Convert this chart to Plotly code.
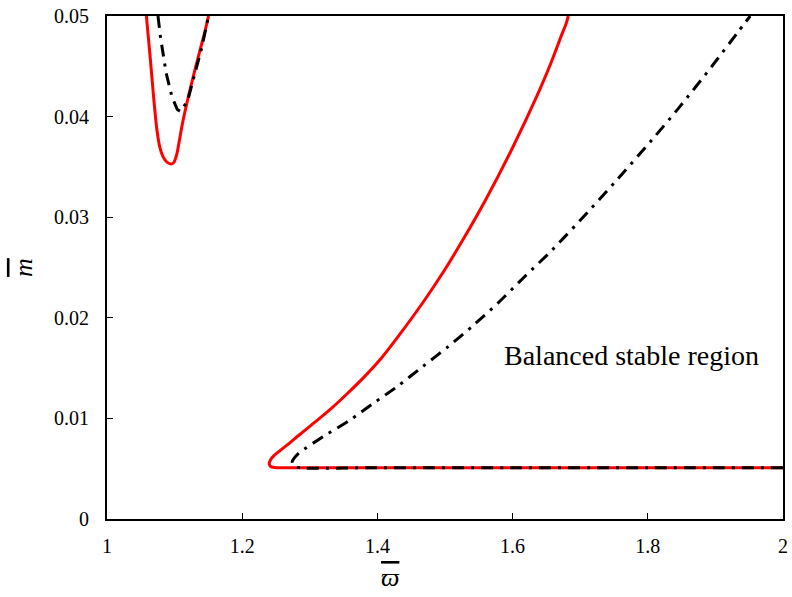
import plotly.graph_objects as go

# Upper-left instability tongue (solid red boundary)
tongue_red_w = [1.0583, 1.0610, 1.0640, 1.0672, 1.0705, 1.0740, 1.0780, 1.0830,
                1.0890, 1.0950, 1.0990, 1.1030, 1.1070, 1.1110, 1.1170, 1.1240,
                1.1310, 1.1380, 1.1450, 1.1502]
tongue_red_m = [0.0500, 0.0480, 0.0458, 0.0433, 0.0408, 0.0386, 0.0370, 0.0360,
                0.03545, 0.03530, 0.03545, 0.0362, 0.0376, 0.0391, 0.0410, 0.0430,
                0.0449, 0.0467, 0.0485, 0.0500]

# Upper-left tongue (dash-dot black boundary)
tongue_blk_w = [1.0754, 1.0793, 1.0876, 1.0960, 1.1040, 1.1090, 1.1194, 1.1290,
                1.1400, 1.1502]
tongue_blk_m = [0.0500, 0.0478, 0.0443, 0.0420, 0.0407, 0.0405, 0.0416, 0.0440,
                0.0468, 0.0500]

# Main boundary, solid red: lower branch from the right, round tip, upper branch
main_red_w = [2.0, 1.8, 1.6, 1.4, 1.3, 1.26, 1.248, 1.2420, 1.2400, 1.2420, 1.2470,
              1.2560, 1.2700, 1.2834, 1.3070, 1.3311, 1.3560, 1.3809, 1.4060,
              1.4305, 1.4699, 1.4970, 1.5234, 1.5600, 1.5983, 1.6377, 1.6560,
              1.6730, 1.6790, 1.6824]
main_red_m = [0.0051, 0.0051, 0.0051, 0.0051, 0.0051, 0.0051, 0.00512, 0.00522,
              0.0055, 0.0059, 0.0063, 0.0068, 0.00755, 0.00830, 0.0096, 0.01095,
              0.0125, 0.01415, 0.0160, 0.01812, 0.02177, 0.0245, 0.0274, 0.03171,
              0.03668, 0.04231, 0.0452, 0.0482, 0.0492, 0.0500]

# Main boundary, dash-dot black
main_blk_w = [2.0, 1.8, 1.6, 1.4, 1.285, 1.2760, 1.2740, 1.2775, 1.2834, 1.3200,
              1.3595, 1.3940, 1.4290, 1.4660, 1.5046, 1.5410, 1.5779, 1.6180,
              1.6585, 1.7142, 1.7521, 1.8059, 1.8474, 1.8951, 1.9320, 1.9515]
main_blk_m = [0.0051, 0.0051, 0.0051, 0.0051, 0.0051, 0.0053, 0.0057, 0.0061,
              0.00653, 0.0082, 0.00984, 0.0115, 0.01315, 0.0151, 0.01713, 0.0192,
              0.02144, 0.0241, 0.02674, 0.03072, 0.03353, 0.03767, 0.04099,
              0.04503, 0.04828, 0.0500]

x_ticks = [1, 1.2, 1.4, 1.6, 1.8, 2]
x_tick_text = ["1", "1.2", "1.4", "1.6", "1.8", "2"]
y_ticks = [0, 0.01, 0.02, 0.03, 0.04, 0.05]
y_tick_text = ["0", "0.01", "0.02", "0.03", "0.04", "0.05"]

SERIF = "Liberation Serif"
RED = "#ff0000"
DASHDOT = "12px,7px,3px,7px"

fig = go.Figure()
fig.add_trace(go.Scatter(x=tongue_red_w, y=tongue_red_m, mode="lines",
                         line=dict(color=RED, width=3, shape="spline", smoothing=0.8),
                         showlegend=False))
fig.add_trace(go.Scatter(x=main_red_w, y=main_red_m, mode="lines",
                         line=dict(color=RED, width=3, shape="spline", smoothing=0.8),
                         showlegend=False))
fig.add_trace(go.Scatter(x=tongue_blk_w, y=tongue_blk_m, mode="lines",
                         line=dict(color="black", width=3, dash=DASHDOT),
                         showlegend=False))
fig.add_trace(go.Scatter(x=main_blk_w, y=main_blk_m, mode="lines",
                         line=dict(color="black", width=3, dash=DASHDOT,
                                   shape="spline", smoothing=0.8),
                         showlegend=False))

fig.add_annotation(x=1.5844, y=0.0163, xref="x", yref="y", xanchor="left",
                   yanchor="middle", showarrow=False, text="Balanced stable region",
                   font=dict(family=SERIF, size=28, color="black"))

# x-axis symbol, placed under the 1.4–1.6 interval
fig.add_annotation(x=1.42, y=-0.117, xref="x", yref="paper", xanchor="center",
                   yanchor="middle", showarrow=False,
                   text="<span style='text-decoration:overline'><i>\u03d6</i></span>",
                   font=dict(family=SERIF, size=26, color="black"))

axis_common = dict(showgrid=False, zeroline=False, showline=True, linecolor="black",
                   linewidth=2, mirror=True, ticks="inside", ticklen=6, tickwidth=1,
                   tickcolor="black", tickfont=dict(family=SERIF, size=20, color="black"))

fig.update_xaxes(range=[1, 2], tickvals=x_ticks, ticktext=x_tick_text,
                 ticklabelstandoff=8, **axis_common)
fig.update_yaxes(range=[0, 0.05], tickvals=y_ticks, ticktext=y_tick_text,
                 title=dict(text="<span style='text-decoration:overline'><i>m</i></span>",
                            font=dict(family=SERIF, size=26, color="black"),
                            standoff=14),
                 ticklabelstandoff=12, **axis_common)

fig.update_layout(width=792, height=597, plot_bgcolor="white", paper_bgcolor="white",
                  margin=dict(l=107, r=4, t=16, b=78))

fig.write_html("out.html")
